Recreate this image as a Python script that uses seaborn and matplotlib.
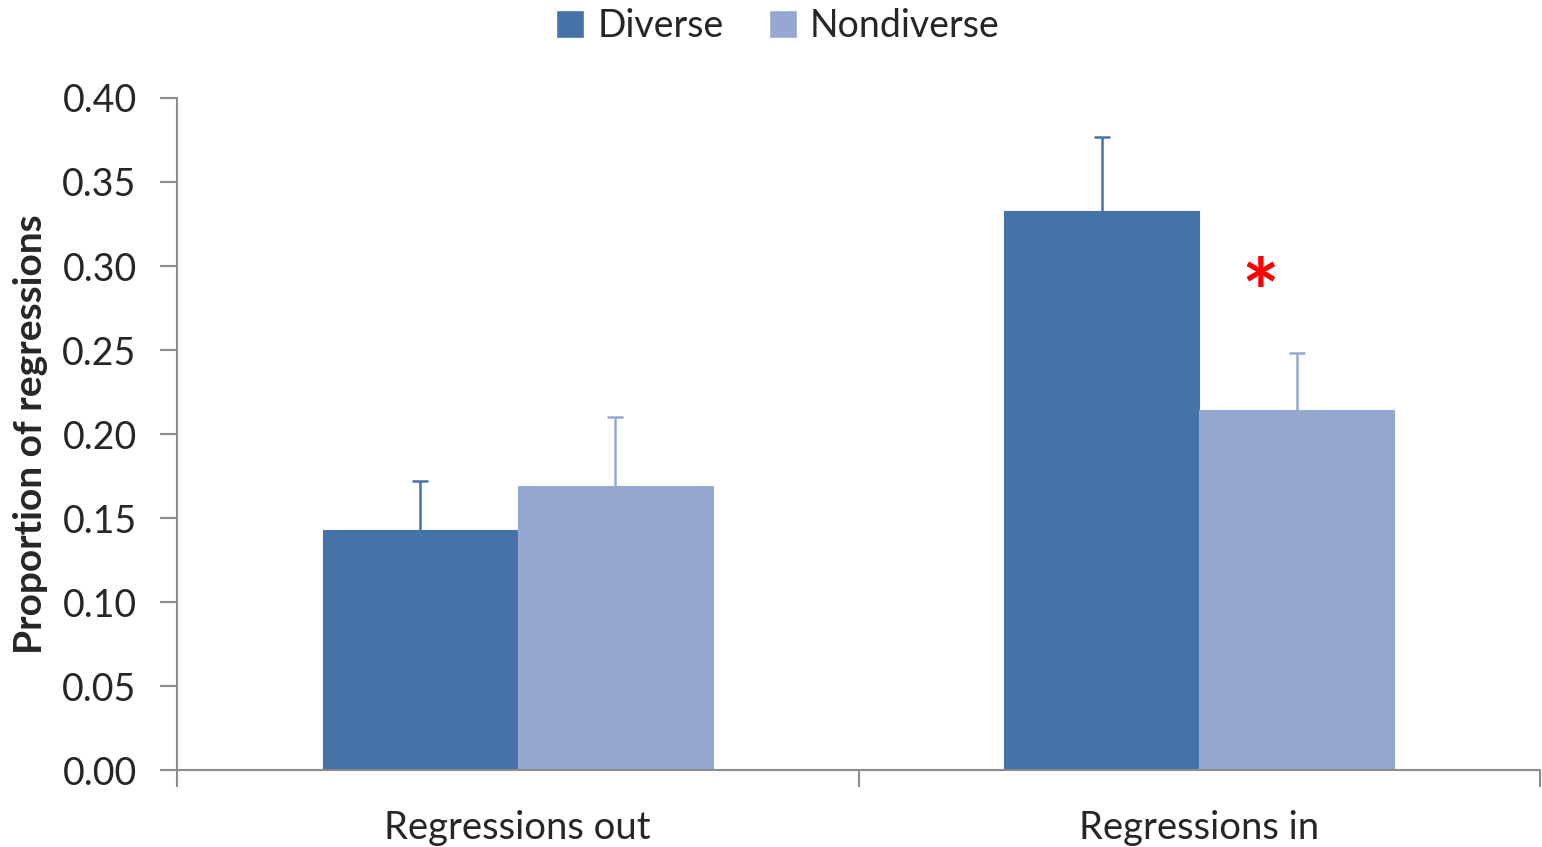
import matplotlib
matplotlib.use("Agg")
import matplotlib.pyplot as plt
import seaborn as sns
import pandas as pd

categories = ["Regressions out", "Regressions in"]
groups = ["Diverse", "Nondiverse"]
diverse = [0.143, 0.333]
nondiverse = [0.169, 0.214]
diverse_err = [0.029, 0.044]
nondiverse_err = [0.041, 0.034]
yticks = [0.00, 0.05, 0.10, 0.15, 0.20, 0.25, 0.30, 0.35, 0.40]

colors = {"Diverse": "#4573A7", "Nondiverse": "#95A9D0"}

df = pd.DataFrame({
    "category": categories * 2,
    "group": ["Diverse"] * 2 + ["Nondiverse"] * 2,
    "value": diverse + nondiverse,
    "err": diverse_err + nondiverse_err,
})

sns.set_theme(style="white")
plt.rcParams["font.family"] = ["Lato", "DejaVu Sans"]

fig = plt.figure(figsize=(15.42, 8.47), dpi=100)
ax = fig.add_axes([0.1148, 0.0909, 0.8839, 0.7934])

sns.barplot(data=df, x="category", y="value", hue="group", order=categories,
            hue_order=groups, palette=colors, width=0.572, errorbar=None,
            saturation=1, ax=ax, legend=True)

# upper-only error bars: a stem from the bar top and a short cap
cap_half = 0.012
for container, g in zip(ax.containers, groups):
    sub = df[df["group"] == g].set_index("category").loc[categories]
    for p, e in zip(container.patches, sub["err"].values):
        xc = p.get_x() + p.get_width() / 2
        top = p.get_height()
        ax.vlines(xc, top, top + e, color=colors[g], linewidth=1.8, zorder=1)
        ax.hlines(top + e, xc - cap_half, xc + cap_half, color=colors[g],
                  linewidth=1.8, zorder=1)
        p.set_edgecolor(colors[g])
        p.set_linewidth(0.8)

ax.text(1.089, 0.285, "*", color="red", fontsize=64, fontweight="bold",
        ha="center", va="center_baseline")

ax.set_xlim(-0.5, 1.5)
ax.set_ylim(0, 0.40)
ax.set_yticks(yticks)
ax.set_yticklabels([f"{t:.2f}" for t in yticks], fontsize=27)
ax.set_xticks([-0.5, 0.5, 1.5], minor=False)
ax.set_xticklabels([])
ax.set_xticks([0, 1], minor=True)
ax.set_xticklabels(categories, minor=True, fontsize=27.5)
ax.tick_params(axis="x", which="minor", length=0, pad=29)
ax.tick_params(axis="x", which="major", direction="out", length=12, width=1.5,
               color="#8C8C8C", bottom=True)
ax.tick_params(axis="y", direction="out", length=12, width=1.5,
               color="#8C8C8C", left=True, pad=17)
ax.set_xlabel("")
ax.set_ylabel("Proportion of regressions", fontsize=28, fontweight="bold",
              labelpad=10)

for s in ["top", "right"]:
    ax.spines[s].set_visible(False)
for s in ["left", "bottom"]:
    ax.spines[s].set_color("#8C8C8C")
    ax.spines[s].set_linewidth(1.5)

handles, labels = ax.get_legend_handles_labels()
ax.legend(handles, labels, loc="center", bbox_to_anchor=(0.441, 1.107),
          ncol=2, frameon=False, fontsize=27, handlelength=0.75,
          handleheight=0.75, handletextpad=0.35, columnspacing=1.2)

fig.savefig("out.png", dpi=100)
